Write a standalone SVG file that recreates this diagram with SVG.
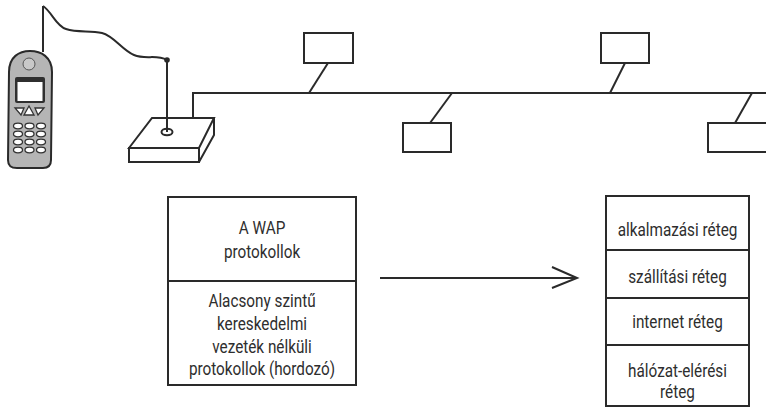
<svg xmlns="http://www.w3.org/2000/svg" width="766" height="411" viewBox="0 0 766 411">
  <style>
    .ln { fill: none; stroke: #2a2a2a; stroke-width: 2; stroke-linejoin: miter; }
    .box { fill: #ffffff; stroke: #2a2a2a; stroke-width: 2; }
    .lbl { font-family: Roboto, "Liberation Sans", sans-serif; font-size: 18px; fill: #2e2e2e; text-anchor: middle; }
    .key { fill: #ffffff; stroke: #333333; stroke-width: 1.3; }
  </style>
  <rect x="0" y="0" width="766" height="411" fill="#ffffff"/>

  <!-- mobile phone with antenna -->
  <g id="phone">
    <line class="ln" x1="43" y1="52" x2="43" y2="6"/>
    <path d="M9 72 C9 57 19 51 30 51 C41 51 52 57 52 72 L51 160 C51 166 48 168 43 168 L17 168 C11 168 8 166 8 160 Z" fill="#b5b5b5" stroke="#2a2a2a" stroke-width="2"/>
    <circle cx="29" cy="64" r="6" fill="#c8c8c8" stroke="#555" stroke-width="1"/>
    <rect x="15" y="77" width="30" height="26" rx="2" fill="#2f2f2f"/>
    <rect x="17.5" y="82" width="25" height="19" fill="#ffffff"/>
    <path d="M15 108 L24 108 L21 115 Z" class="key"/>
    <path d="M29 106 L34 115 L24 115 Z" class="key"/>
    <path d="M35 108 L44 108 L38 115 Z" class="key"/>
    <g>
      <ellipse class="key" cx="18" cy="126" rx="4.5" ry="2.8"/>
      <ellipse class="key" cx="29.5" cy="126" rx="4.5" ry="2.8"/>
      <ellipse class="key" cx="41" cy="126" rx="4.5" ry="2.8"/>
      <ellipse class="key" cx="18" cy="134" rx="4.5" ry="2.8"/>
      <ellipse class="key" cx="29.5" cy="134" rx="4.5" ry="2.8"/>
      <ellipse class="key" cx="41" cy="134" rx="4.5" ry="2.8"/>
      <ellipse class="key" cx="18" cy="142" rx="4.5" ry="2.8"/>
      <ellipse class="key" cx="29.5" cy="142" rx="4.5" ry="2.8"/>
      <ellipse class="key" cx="41" cy="142" rx="4.5" ry="2.8"/>
      <ellipse class="key" cx="18" cy="150" rx="4.5" ry="2.8"/>
      <ellipse class="key" cx="29.5" cy="150" rx="4.5" ry="2.8"/>
      <ellipse class="key" cx="41" cy="150" rx="4.5" ry="2.8"/>
    </g>
  </g>

  <!-- base station -->
  <g id="base-station">
    <path class="ln" d="M129 148 L152 118 L214 118 L199 148 Z" fill="#ffffff"/>
    <rect class="ln" x="129" y="148" width="70" height="14"/>
    <path class="ln" d="M199 162 L214 135 L214 118"/>
    <line class="ln" x1="167" y1="60" x2="167" y2="132"/>
    <ellipse class="ln" cx="167" cy="132" rx="5.5" ry="3.2"/>
    <circle cx="167" cy="60" r="2.8" fill="#2a2a2a"/>
  </g>

  <!-- network stations -->
  <g id="station-1"><rect class="box" x="304" y="33" width="49" height="30"/></g>
  <g id="station-2"><rect class="box" x="403" y="123" width="48" height="29"/></g>
  <g id="station-3"><rect class="box" x="601" y="33" width="48" height="30"/></g>
  <g id="station-4"><rect class="box" x="708" y="123" width="62" height="29"/></g>

  <!-- protocol stacks (labels drawn slightly condensed) -->
  <g id="wap-stack">
    <rect class="box" x="168" y="197" width="188" height="188"/>
    <line class="ln" x1="168" y1="281" x2="356" y2="281"/>
    <g transform="translate(262 0) scale(0.85 1)">
      <text class="lbl" x="0" y="234">A WAP</text>
      <text class="lbl" x="0" y="258">protokollok</text>
      <text class="lbl" x="0" y="307">Alacsony szintű</text>
      <text class="lbl" x="0" y="330">kereskedelmi</text>
      <text class="lbl" x="0" y="353">vezeték nélküli</text>
      <text class="lbl" x="0" y="375">protokollok (hordozó)</text>
    </g>
  </g>
  <g id="tcpip-stack">
    <rect class="box" x="606" y="196" width="143" height="210"/>
    <line class="ln" x1="606" y1="250" x2="749" y2="250"/>
    <line class="ln" x1="606" y1="298" x2="749" y2="298"/>
    <line class="ln" x1="606" y1="345" x2="749" y2="345"/>
    <g transform="translate(677.5 0) scale(0.85 1)">
      <text class="lbl" x="0" y="236">alkalmazási réteg</text>
      <text class="lbl" x="0" y="283">szállítási réteg</text>
      <text class="lbl" x="0" y="328">internet réteg</text>
      <text class="lbl" x="0" y="377">hálózat-elérési</text>
      <text class="lbl" x="0" y="398">réteg</text>
    </g>
  </g>

  <!-- connectors -->
  <g id="connectors">
    <path class="ln" d="M43 6 C52 12 56 26 66 29 C78 33 90 30 102 33 C114 36 122 50 134 55 C146 60 156 54 167 60"/>
    <path class="ln" d="M193 118 L193 93 L766 93"/>
    <line class="ln" x1="328" y1="63" x2="309" y2="93"/>
    <line class="ln" x1="452" y1="93" x2="430" y2="123"/>
    <line class="ln" x1="625" y1="63" x2="610" y2="93"/>
    <line class="ln" x1="752" y1="93" x2="735" y2="123"/>
    <line class="ln" x1="380" y1="278" x2="576" y2="278"/>
    <path class="ln" d="M552 267 L577 278 L552 288"/>
  </g>
</svg>
